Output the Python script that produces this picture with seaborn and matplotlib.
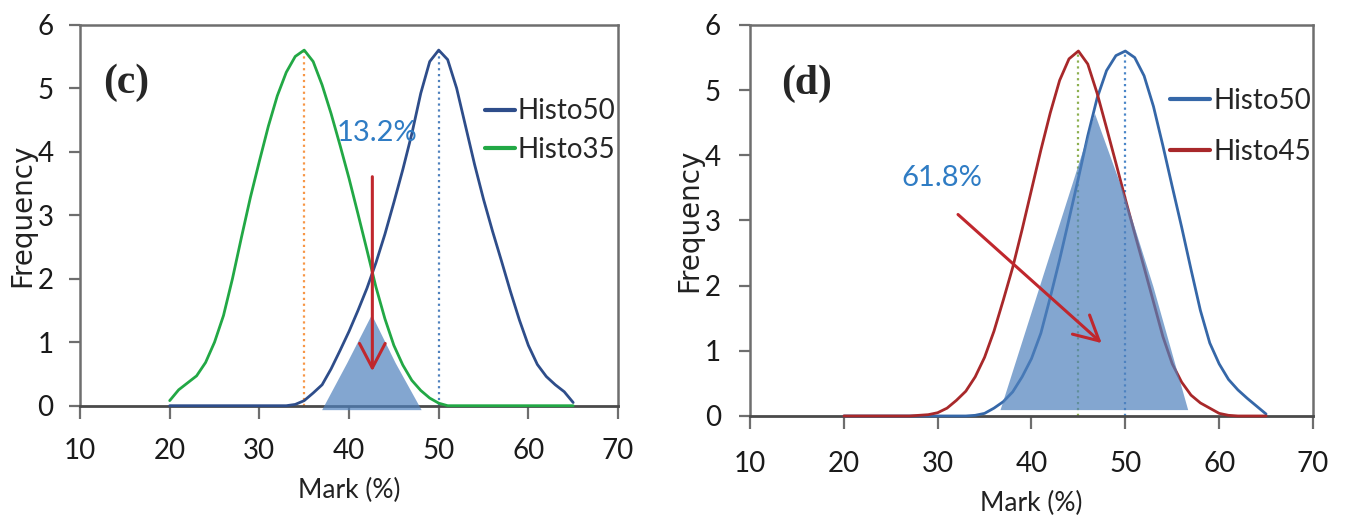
import numpy as np
import pandas as pd
import matplotlib
matplotlib.use("Agg")
import matplotlib.pyplot as plt
import seaborn as sns

# ---- data ----
marks = list(range(20, 66))

# panel (c)
c_histo50 = [0, 0, 0, 0, 0, 0, 0, 0, 0, 0, 0, 0, 0, 0.0, 0.02,
             0.08, 0.2, 0.33, 0.58, 0.87, 1.17, 1.5, 1.85, 2.25, 2.7,
             3.2, 3.72, 4.28, 4.92, 5.42, 5.6, 5.45, 5.0, 4.4, 3.8,
             3.25, 2.75, 2.28, 1.8, 1.35, 0.95, 0.65, 0.46, 0.33, 0.22, 0.05]
c_histo35 = [0.08, 0.25, 0.36, 0.47, 0.68, 1.0, 1.42, 2.0, 2.65, 3.28,
             3.85, 4.4, 4.88, 5.25, 5.5, 5.6, 5.42, 5.05, 4.6, 4.1,
             3.58, 3.02, 2.45, 1.87, 1.37, 0.95, 0.64, 0.4, 0.24, 0.12,
             0.04, 0, 0, 0, 0, 0, 0, 0, 0, 0, 0, 0, 0, 0, 0, 0]
c_means = [35, 50]
c_overlap_x = [37.0, 39.8, 42.55, 45.2, 48.1]
c_overlap_y = [-0.07, 0.67, 1.43, 0.67, -0.07]
c_label = "13.2%"

# panel (d)
d_histo50 = [0, 0, 0, 0, 0, 0, 0, 0, 0, 0, 0, 0, 0, 0, 0.01,
             0.04, 0.12, 0.22, 0.37, 0.6, 0.88, 1.27, 1.82, 2.4, 3.02,
             3.65, 4.3, 4.88, 5.3, 5.53, 5.6, 5.5, 5.22, 4.75, 4.15,
             3.52, 2.9, 2.25, 1.62, 1.12, 0.8, 0.56, 0.4, 0.27, 0.15, 0.03]
d_histo45 = [0, 0, 0, 0, 0, 0, 0, 0, 0.01, 0.02,
             0.05, 0.12, 0.24, 0.38, 0.6, 0.9, 1.3, 1.78, 2.28, 2.86,
             3.47, 4.08, 4.65, 5.15, 5.48, 5.6, 5.4, 4.95, 4.42, 3.88,
             3.33, 2.8, 2.28, 1.75, 1.22, 0.8, 0.52, 0.32, 0.2, 0.12,
             0.04, 0.01, 0, 0, 0, 0]
d_means = [45, 50]
d_overlap_x = [36.7, 46.76, 50.1, 53.0, 56.7]
d_overlap_y = [0.09, 4.64, 3.31, 1.98, 0.09]
d_label = "61.8%"

sns.set_theme(style="white")
plt.rcParams['font.family'] = ['Lato', 'DejaVu Sans']
plt.rcParams['lines.solid_joinstyle'] = 'round'

fig = plt.figure(figsize=(13.45, 5.19), dpi=100)
ax_c = fig.add_axes([0.0595, 0.2183, 0.4, 0.7341])
ax_d = fig.add_axes([0.5576, 0.1985, 0.4186, 0.7534])

fill_col = '#4F81BD'
arrow_col = '#C0272D'
text_col = '#2F7CC4'


def style_axes(ax, tick_pad_x, tick_pad_y):
    ax.set_xlim(10, 70)
    ax.set_ylim(0, 6)
    ax.set_xticks(range(10, 71, 10))
    ax.set_yticks(range(0, 7))
    for side in ['top', 'right', 'left']:
        ax.spines[side].set_color('#6e6e6e')
        ax.spines[side].set_linewidth(1.8)
    ax.spines['bottom'].set_color('#4a4a4a')
    ax.spines['bottom'].set_linewidth(2.0)
    ax.tick_params(axis='x', direction='out', length=9, width=1.6, color='#6e6e6e',
                   labelsize=20, pad=tick_pad_x, bottom=True, labelcolor='#1a1a1a')
    ax.tick_params(axis='y', direction='out', length=8, width=1.6, color='#6e6e6e',
                   labelsize=20, pad=tick_pad_y, left=True, labelcolor='#1a1a1a')
    ax.set_xlabel('Mark (%)', fontsize=19, labelpad=10, color='#222222')
    ax.set_ylabel('Frequency', fontsize=20, labelpad=1, color='#222222',
                  family=['DejaVu Sans'])
    ax.grid(False)


# panel (c)
df_c = pd.DataFrame({'Mark': marks * 2,
                     'Freq': c_histo50 + c_histo35,
                     'Series': ['Histo50'] * len(marks) + ['Histo35'] * len(marks)})
sns.lineplot(data=df_c, x='Mark', y='Freq', hue='Series', ax=ax_c,
             palette={'Histo50': '#2E4D8A', 'Histo35': '#22A845'},
             linewidth=2.0, zorder=3, clip_on=False)
ax_c.vlines(c_means[0], 0, max(c_histo35), colors='#F79646', linestyles=':', linewidth=1.6, zorder=2)
ax_c.vlines(c_means[1], 0, max(c_histo50), colors='#4F81BD', linestyles=':', linewidth=1.6, zorder=2)
ax_c.fill(c_overlap_x, c_overlap_y, color=fill_col, alpha=0.7, lw=0, zorder=4, clip_on=False)
ax_c.annotate('', xy=(42.6, 0.5), xytext=(42.6, 3.65),
              arrowprops=dict(arrowstyle='->,head_length=0.8,head_width=0.42',
                              color=arrow_col, lw=2.2, mutation_scale=22), zorder=5)
ax_c.text(43.1, 4.29, c_label, color=text_col, fontsize=21, ha='center', va='center', zorder=6)
ax_c.text(15.2, 5.08, '(c)', family=['Liberation Serif'], fontweight='bold', fontsize=30,
          ha='center', va='center')
style_axes(ax_c, 14, 11)
leg = ax_c.legend(loc='upper left', bbox_to_anchor=(0.752, 0.807), frameon=False, fontsize=20,
                  handlelength=1.1, handletextpad=0.1, labelspacing=0.45,
                  borderpad=0, borderaxespad=0)
for line in leg.get_lines():
    line.set_linewidth(3)

# panel (d)
df_d = pd.DataFrame({'Mark': marks * 2,
                     'Freq': d_histo50 + d_histo45,
                     'Series': ['Histo50'] * len(marks) + ['Histo45'] * len(marks)})
sns.lineplot(data=df_d, x='Mark', y='Freq', hue='Series', ax=ax_d,
             palette={'Histo50': '#3567A8', 'Histo45': '#A8282A'},
             linewidth=2.0, zorder=3, clip_on=False)
ax_d.vlines(d_means[0], 0, max(d_histo45), colors='#8DB050', linestyles=':', linewidth=1.6, zorder=2)
ax_d.vlines(d_means[1], 0, max(d_histo50), colors='#4A86C8', linestyles=':', linewidth=1.6, zorder=2)
ax_d.fill(d_overlap_x, d_overlap_y, color=fill_col, alpha=0.7, lw=0, zorder=4)
ax_d.annotate('', xy=(47.7, 1.09), xytext=(31.95, 3.12),
              arrowprops=dict(arrowstyle='->,head_length=0.8,head_width=0.42',
                              color=arrow_col, lw=2.2, mutation_scale=22), zorder=5)
ax_d.text(30.4, 3.65, d_label, color=text_col, fontsize=21, ha='center', va='center', zorder=6)
ax_d.text(16.05, 5.1, '(d)', family=['Liberation Serif'], fontweight='bold', fontsize=30,
          ha='center', va='center')
style_axes(ax_d, 16, 13)
leg = ax_d.legend(loc='upper left', bbox_to_anchor=(0.746, 0.84), frameon=False, fontsize=20,
                  handlelength=1.45, handletextpad=0.1, labelspacing=0.9,
                  borderpad=0, borderaxespad=0)
for line in leg.get_lines():
    line.set_linewidth(3)

fig.savefig('out.png', dpi=100, facecolor='white')
